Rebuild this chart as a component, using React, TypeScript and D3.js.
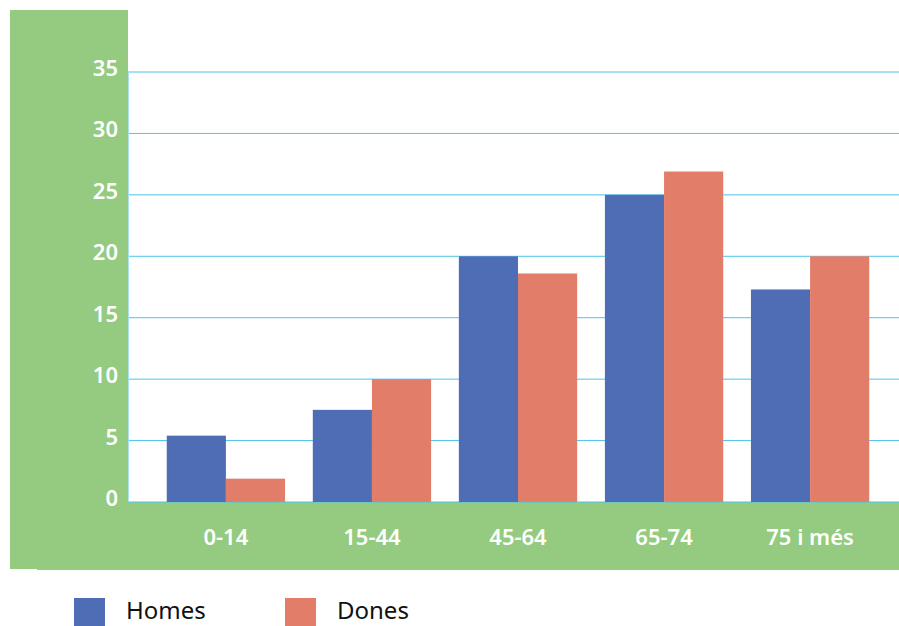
import React from "react";
import * as d3 from "d3";

const categories = ["0-14", "15-44", "45-64", "65-74", "75 i més"];
const seriesNames = ["Homes", "Dones"];
const homes = [5.4, 7.5, 20.0, 25.0, 17.3];
const dones = [1.9, 10.0, 18.6, 26.9, 20.0];
const yTicks = [0, 5, 10, 15, 20, 25, 30, 35];
const colors = ["#4f6db5", "#e27d6a"];

const W = 899;
const H = 626;
const GREEN = "#94cb80";
const FONT = "'Noto Sans', 'Open Sans', sans-serif";

export default function App() {
  const x = d3.scaleBand<string>().domain(categories).range([139, 897]).padding(0.19);
  const xs = d3.scaleBand<string>().domain(seriesNames).range([0, x.bandwidth()]);
  const y = d3.scaleLinear().domain([0, 35]).range([502, 72]);
  const series = [homes, dones];

  return (
    <div style={{ position: "absolute", left: 0, top: 0 }}>
      <svg width={W} height={H} style={{ display: "block" }}>
        <rect x={0} y={0} width={W} height={H} fill="#fff" />
        {/* green panels */}
        <rect x={10} y={10} width={118} height={559} fill={GREEN} />
        <rect x={37} y={y(0)} width={W - 37} height={570 - y(0)} fill={GREEN} />
        {/* gridlines */}
        {yTicks.map((t) => (
          <line key={t} x1={128} x2={W} y1={y(t)} y2={y(t)} stroke="#4dc3ea" strokeWidth={1} />
        ))}
        <line x1={128.5} x2={128.5} y1={y(35)} y2={y(0)} stroke="#a8e2f4" strokeWidth={1} />
        {/* bars */}
        {categories.map((c, i) => (
          <g key={c} transform={`translate(${x(c)},0)`}>
            {seriesNames.map((s, j) => (
              <rect
                key={s}
                x={xs(s)}
                y={y(series[j][i])}
                width={xs.bandwidth()}
                height={y(0) - y(series[j][i])}
                fill={colors[j]}
              />
            ))}
          </g>
        ))}
        {/* y tick labels */}
        {yTicks.map((t) => (
          <text key={t} x={118} y={y(t) + 4} textAnchor="end" fill="#fff" fontFamily={FONT} fontSize={22} fontWeight={600}>
            {t}
          </text>
        ))}
        {/* x labels */}
        {categories.map((c) => (
          <text key={c} x={(x(c) as number) + x.bandwidth() / 2} y={545} textAnchor="middle" fill="#fff" fontFamily={FONT} fontSize={22} fontWeight={600}>
            {c}
          </text>
        ))}
        {/* legend */}
        {seriesNames.map((s, j) => (
          <g key={s} transform={`translate(${74 + j * 211},598)`}>
            <rect x={0} y={0} width={31} height={28} fill={colors[j]} />
            <text x={52} y={21} fill="#111" fontFamily={FONT} fontSize={24}>
              {s}
            </text>
          </g>
        ))}
      </svg>
    </div>
  );
}
